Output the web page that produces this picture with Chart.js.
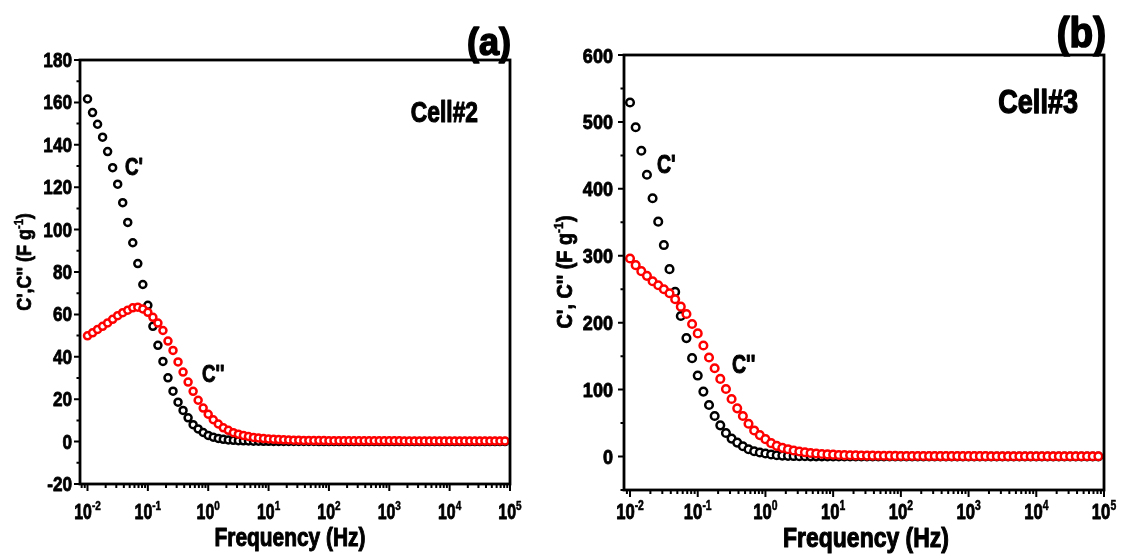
<!DOCTYPE html>
<html>
<head>
<meta charset="utf-8">
<script src="https://cdn.jsdelivr.net/npm/chart.js@4/dist/chart.umd.min.js"></script>
<style>
  body { margin: 0; background: #fff; }
  #wrap { position: relative; width: 1122px; height: 555px; overflow: hidden; }
  canvas { position: absolute; top: 0; }
</style>
</head>
<body>
<div id="wrap">
  <canvas id="cell2-chart" width="540" height="555" style="left:0"></canvas>
  <canvas id="cell3-chart" width="582" height="555" style="left:540px"></canvas>
</div>
<script>
// measurement frequencies (Hz), same for both cells
const freqHz = [
    0.01, 0.01212, 0.01468, 0.01778, 0.02154, 0.0261, 0.03162, 0.03831, 0.04642, 0.05623, 0.06813, 0.08254,
    0.1, 0.1212, 0.1468, 0.1778, 0.2154, 0.261, 0.3162, 0.3831, 0.4642, 0.5623, 0.6813, 0.8254,
    1, 1.212, 1.468, 1.778, 2.154, 2.61, 3.162, 3.831, 4.642, 5.623, 6.813, 8.254,
    10, 12.12, 14.68, 17.78, 21.54, 26.1, 31.62, 38.31, 46.42, 56.23, 68.13, 82.54,
    100, 121.2, 146.8, 177.8, 215.4, 261, 316.2, 383.1, 464.2, 562.3, 681.3, 825.4,
    1000, 1212, 1468, 1778, 2154, 2610, 3162, 3831, 4642, 5623, 6813, 8254,
    10000, 12120, 14680, 17780, 21540, 26100, 31620, 38310, 46420, 56230, 68130, 82540
];

// Cell#2 (F/g)
const cell2Real = [
    161.6, 155.2, 149.7, 143.6, 136.8, 129.2, 121.4, 112.7, 103.4, 93.8, 84.0, 74.1,
    64.3, 54.4, 45.4, 37.8, 30.1, 23.8, 18.6, 14.7, 11.2, 8.0, 6.0, 4.3,
    2.9, 2.1, 1.5, 1.1, 0.8, 0.6, 0.45, 0.35, 0.28, 0.22, 0.18, 0.15,
    0.12, 0.1, 0.09, 0.08, 0.07, 0.06, 0.05, 0.05, 0.04, 0.04, 0.03, 0.03,
    0.03, 0.03, 0.02, 0.02, 0.02, 0.02, 0.02, 0.02, 0.02, 0.02, 0.02, 0.02,
    0.02, 0.02, 0.02, 0.02, 0.02, 0.02, 0.02, 0.02, 0.02, 0.02, 0.02, 0.02,
    0.02, 0.02, 0.02, 0.02, 0.02, 0.02, 0.02, 0.02, 0.02, 0.02, 0.02, 0.02
];
const cell2Imag = [
    49.9, 51.3, 52.9, 54.4, 56.0, 57.7, 59.4, 60.8, 62.0, 63.1, 63.4, 62.6,
    61.0, 58.6, 55.9, 52.4, 47.4, 43.0, 37.6, 32.8, 28.1, 23.7, 19.5, 15.8,
    12.9, 10.3, 8.3, 6.5, 5.3, 4.2, 3.5, 2.9, 2.4, 1.95, 1.7, 1.45,
    1.25, 1.1, 0.95, 0.85, 0.75, 0.68, 0.62, 0.57, 0.53, 0.5, 0.48, 0.46,
    0.44, 0.43, 0.42, 0.41, 0.4, 0.39, 0.38, 0.38, 0.37, 0.37, 0.36, 0.36,
    0.35, 0.35, 0.35, 0.34, 0.34, 0.34, 0.34, 0.33, 0.33, 0.33, 0.33, 0.33,
    0.33, 0.32, 0.32, 0.32, 0.32, 0.31, 0.31, 0.31, 0.31, 0.3, 0.3, 0.3
];

// Cell#3 (F/g)
const cell3Real = [
    529, 492, 457, 421, 386, 351, 316, 280, 246, 210, 177, 147,
    121, 97, 77, 60.5, 46.6, 35.2, 26.8, 20.8, 15.3, 10.9, 7.9, 6.0,
    4.5, 3.0, 2.0, 1.4, 1.0, 0.7, 0.5, 0.4, 0.3, 0.25, 0.2, 0.15,
    0.12, 0.1, 0.08, 0.07, 0.06, 0.05, 0.05, 0.05, 0.05, 0.05, 0.05, 0.05,
    0.05, 0.05, 0.05, 0.05, 0.05, 0.05, 0.05, 0.05, 0.05, 0.05, 0.05, 0.05,
    0.05, 0.05, 0.05, 0.05, 0.05, 0.05, 0.05, 0.05, 0.05, 0.05, 0.05, 0.05,
    0.05, 0.05, 0.05, 0.05, 0.05, 0.05, 0.05, 0.05, 0.05, 0.05, 0.05, 0.05
];
const cell3Imag = [
    296, 286, 277, 270, 262, 256, 250, 244, 235, 224, 213, 198,
    184, 166, 148, 132, 116, 101, 86, 72, 60.5, 49, 39, 32,
    26, 20, 16, 13, 11, 9, 7.5, 6.3, 5.3, 4.5, 3.8, 3.2,
    2.8, 2.4, 2.1, 1.9, 1.7, 1.5, 1.4, 1.3, 1.2, 1.1, 1.0, 0.95,
    0.9, 0.85, 0.8, 0.78, 0.75, 0.72, 0.7, 0.68, 0.66, 0.64, 0.62, 0.6,
    0.58, 0.57, 0.56, 0.55, 0.54, 0.53, 0.52, 0.52, 0.51, 0.51, 0.5, 0.5,
    0.5, 0.49, 0.49, 0.48, 0.48, 0.47, 0.47, 0.46, 0.46, 0.45, 0.45, 0.45
];

// axis ticks
const xDecades = [-2, -1, 0, 1, 2, 3, 4, 5];
const yTicks2 = [-20, 0, 20, 40, 60, 80, 100, 120, 140, 160, 180];
const yMinor2 = [-10, 10, 30, 50, 70, 90, 110, 130, 150, 170];
const yTicks3 = [0, 100, 200, 300, 400, 500, 600];
const yMinor3 = [-50, 50, 150, 250, 350, 450, 550];

const FONT = '"Liberation Sans", Arial, sans-serif';

// bold text, squeezed horizontally by sx, thickened a little with a stroke
function drawText(ctx, text, x, y, size, sx, align) {
    ctx.save();
    ctx.font = 'bold ' + size + 'px ' + FONT;
    ctx.textAlign = align || 'left';
    ctx.textBaseline = 'alphabetic';
    ctx.translate(x, y);
    ctx.scale(sx, 1);
    ctx.fillText(text, 0, 0);
    ctx.lineWidth = Math.max(0.5, size * 0.04);
    ctx.lineJoin = 'round';
    ctx.strokeText(text, 0, 0);
    ctx.restore();
}

function textWidth(ctx, text, size, sx) {
    ctx.save();
    ctx.font = 'bold ' + size + 'px ' + FONT;
    const w = ctx.measureText(text).width * sx;
    ctx.restore();
    return w;
}

// text made of [string, isSuperscript] parts, centred on cx
function drawParts(ctx, parts, cx, y, size, supSize, sx) {
    let total = 0;
    parts.forEach(p => total += textWidth(ctx, p[0], p[1] ? supSize : size, sx));
    let x = cx - total / 2;
    parts.forEach(p => {
        const s = p[1] ? supSize : size;
        drawText(ctx, p[0], x, p[1] ? y - size * 0.42 : y, s, sx, 'left');
        x += textWidth(ctx, p[0], s, sx);
    });
}

const framePlugin = {
    id: 'frame',
    afterDatasetsDraw(chart, args, o) {
        const ctx = chart.ctx;
        const area = chart.chartArea;
        const xs = chart.scales.x;
        const ys = chart.scales.y;
        ctx.save();
        ctx.fillStyle = '#000';
        ctx.strokeStyle = '#000';

        // ticks
        ctx.lineWidth = 2;
        ctx.beginPath();
        o.yMajor.forEach(v => {
            const y = ys.getPixelForValue(v);
            ctx.moveTo(area.left - 6, y); ctx.lineTo(area.left, y);
        });
        o.yMinor.forEach(v => {
            const y = ys.getPixelForValue(v);
            ctx.moveTo(area.left - 3.5, y); ctx.lineTo(area.left, y);
        });
        xDecades.forEach(d => {
            const x = xs.getPixelForValue(Math.pow(10, d));
            ctx.moveTo(x, area.bottom); ctx.lineTo(x, area.bottom + 7);
            for (let m = 2; m <= 9; m++) {
                [d - 1, d].forEach(dd => {
                    const v = m * Math.pow(10, dd);
                    if (dd === d && d === 5) return;
                    if (dd === d - 1 && d !== -2) return;
                    if (v < xs.min || v > xs.max) return;
                    const xm = xs.getPixelForValue(v);
                    ctx.moveTo(xm, area.bottom); ctx.lineTo(xm, area.bottom + 4);
                });
            }
        });
        ctx.stroke();

        // frame
        ctx.lineWidth = 2.8;
        ctx.strokeRect(area.left, area.top, area.right - area.left, area.bottom - area.top);

        // y tick labels
        o.yMajor.forEach(v => {
            const y = ys.getPixelForValue(v);
            drawText(ctx, String(v), o.yLabelRight, y + o.ySize * 0.36, o.ySize, o.ySx, 'right');
        });

        // x tick labels 10^n
        xDecades.forEach(d => {
            const x = xs.getPixelForValue(Math.pow(10, d));
            drawParts(ctx, [['10', false], [String(d), true]], x, o.xBase, o.xSize, o.xSup, o.xSx);
        });

        // axis titles
        drawParts(ctx, [['Frequency (Hz)', false]], o.xTitleX, o.xTitleY, o.xTitleSize, o.xTitleSize, 0.82);
        ctx.save();
        ctx.translate(o.yTitleX, o.yTitleY);
        ctx.rotate(-Math.PI / 2);
        drawParts(ctx, [[o.yTitle, false], ['-1', true], [')', false]], 0, 0, o.yTitleSize, o.yTitleSize * 0.62, 0.9);
        ctx.restore();

        // annotations
        o.notes.forEach(n => drawText(ctx, n.text, n.x, n.y, n.size, n.sx, n.align));
        ctx.restore();
    }
};

function pointsOf(values) {
    return freqHz.map((f, i) => ({ x: f, y: values[i] }));
}

function makeChart(id, real, imag, cfg) {
    const style = color => ({
        borderColor: color,
        backgroundColor: '#ffffff',
        pointBorderColor: color,
        pointBackgroundColor: '#ffffff',
        pointRadius: cfg.radius,
        pointHoverRadius: cfg.radius,
        pointBorderWidth: cfg.stroke,
        clip: 8
    });
    return new Chart(document.getElementById(id).getContext('2d'), {
        type: 'scatter',
        data: {
            datasets: [
                Object.assign({ label: "C''", data: pointsOf(imag) }, style('#ff0000')),
                Object.assign({ label: "C'", data: pointsOf(real) }, style('#000000'))
            ]
        },
        options: {
            responsive: false,
            animation: false,
            events: [],
            layout: { padding: cfg.padding },
            plugins: {
                legend: { display: false },
                tooltip: { enabled: false },
                frame: cfg.frame
            },
            scales: {
                x: { type: 'logarithmic', min: cfg.xMin, max: 1e5, display: false },
                y: { type: 'linear', min: cfg.yMin, max: cfg.yMax, display: false }
            }
        },
        plugins: [framePlugin]
    });
}

const cell2Chart = makeChart('cell2-chart', cell2Real, cell2Imag, {
    radius: 3.5, stroke: 2.5,
    padding: { left: 80, right: 30, top: 60, bottom: 71 },
    xMin: 0.00751, yMin: -20, yMax: 180,
    frame: {
        yMajor: yTicks2, yMinor: yMinor2,
        yLabelRight: 72, ySize: 19.5, ySx: 0.88,
        xBase: 519, xSize: 21.5, xSup: 13.5, xSx: 0.74,
        xTitleX: 290, xTitleY: 546, xTitleSize: 25.5,
        yTitle: "C',C'' (F g", yTitleX: 31, yTitleY: 262, yTitleSize: 20,
        notes: [
            { text: "C'", x: 125, y: 175, size: 24, sx: 0.78, align: 'left' },
            { text: "C''", x: 202, y: 382, size: 24, sx: 0.78, align: 'left' },
            { text: 'Cell#2', x: 478, y: 122, size: 30, sx: 0.76, align: 'right' },
            { text: '(a)', x: 511, y: 55, size: 38, sx: 0.95, align: 'right' }
        ]
    }
});

const cell3Chart = makeChart('cell3-chart', cell3Real, cell3Imag, {
    radius: 3.8, stroke: 2.5,
    padding: { left: 84, right: 18, top: 55, bottom: 65 },
    xMin: 0.00815, yMin: -50, yMax: 600,
    frame: {
        yMajor: yTicks3, yMinor: yMinor3,
        yLabelRight: 73, ySize: 21, ySx: 0.86,
        xBase: 519, xSize: 22.5, xSup: 14, xSx: 0.74,
        xTitleX: 326, xTitleY: 547, xTitleSize: 28,
        yTitle: "C', C'' (F g", yTitleX: 32, yTitleY: 272, yTitleSize: 22,
        notes: [
            { text: "C'", x: 117, y: 173, size: 25, sx: 0.78, align: 'left' },
            { text: "C''", x: 192, y: 373, size: 25, sx: 0.78, align: 'left' },
            { text: 'Cell#3', x: 538, y: 113, size: 33, sx: 0.82, align: 'right' },
            { text: '(b)', x: 566, y: 47, size: 42, sx: 0.92, align: 'right' }
        ]
    }
});
</script>
</body>
</html>
